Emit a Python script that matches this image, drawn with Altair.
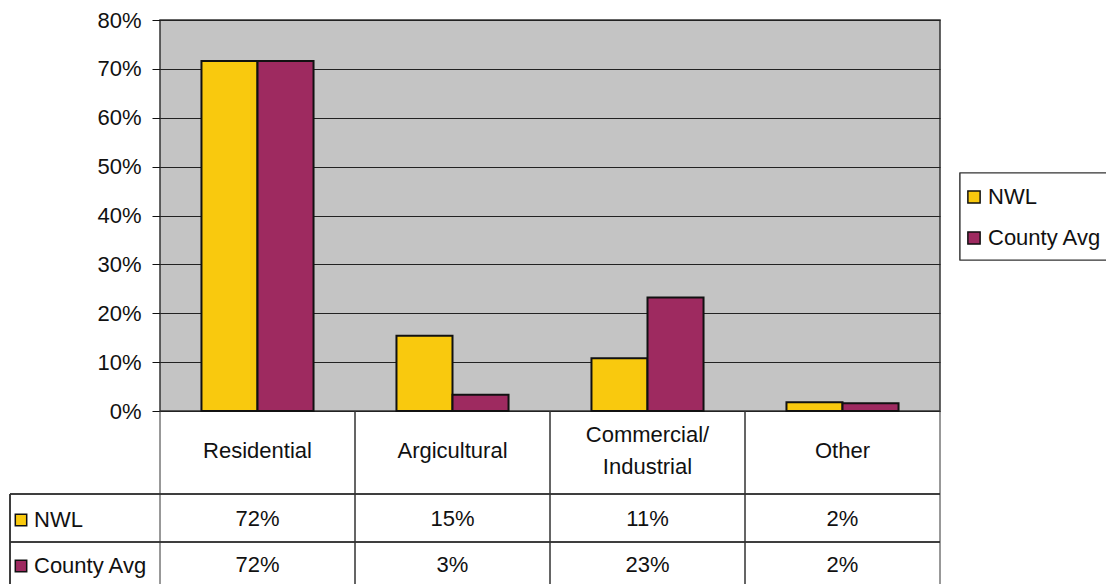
import altair as alt
import pandas as pd

categories = ["Residential", "Argicultural", "Commercial/\nIndustrial", "Other"]
series = ["NWL", "County Avg"]
nwl = [0.716, 0.154, 0.108, 0.018]
county = [0.716, 0.033, 0.232, 0.016]
colors = ["#F9C90E", "#9E2A60"]
y_ticks = [0, 0.1, 0.2, 0.3, 0.4, 0.5, 0.6, 0.7, 0.8]

rows = []
for c, a, b in zip(categories, nwl, county):
    rows.append({"cat": c, "series": series[0], "value": a})
    rows.append({"cat": c, "series": series[1], "value": b})
df = pd.DataFrame(rows)
cats_df = pd.DataFrame({"cat": categories})
ser_df = pd.DataFrame({"series": series})

FONT = "Liberation Sans"
FS = 22
W, H = 780, 391

x_enc = alt.X("cat:N", sort=categories, scale=alt.Scale(paddingInner=0, paddingOuter=0), axis=None)
color_scale = alt.Scale(domain=series, range=colors)

legend_box = alt.Chart(ser_df).mark_rect(fill="white", stroke="#333", strokeWidth=1.2).encode(
    x=alt.value(800), x2=alt.value(960), y=alt.value(153), y2=alt.value(240))

bars = alt.Chart(df).mark_bar(stroke="#111", strokeWidth=2).encode(
    x=x_enc,
    xOffset=alt.XOffset("series:N", sort=series, scale=alt.Scale(paddingInner=0, paddingOuter=0.74)),
    y=alt.Y("value:Q", scale=alt.Scale(domain=[0, 0.8], nice=False),
            axis=alt.Axis(values=y_ticks, format=".0%", title=None, grid=True,
                          gridColor="#222", gridWidth=1, domain=False,
                          tickSize=8, tickColor="#111", labelPadding=11,
                          labelFontSize=FS, labelColor="#111", labelFont=FONT)),
    color=alt.Color("series:N", scale=color_scale, sort=series,
                    legend=alt.Legend(orient="none", legendX=803, legendY=166, title=None,
                                      padding=0, rowPadding=19, labelFontSize=FS, labelFont=FONT,
                                      labelColor="#111", labelLimit=400, labelOffset=3,
                                      symbolType="square", symbolSize=150,
                                      symbolStrokeColor="#111", symbolStrokeWidth=1.5,
                                      symbolOpacity=1)),
)

single_lbl = alt.Chart(cats_df).transform_filter("indexof(datum.cat, '\\n') < 0").mark_text(
    fontSize=FS, font=FONT, color="#111", baseline="middle").encode(
    x=x_enc, y=alt.value(431), text="cat:N")
multi_lbl = alt.Chart(cats_df).transform_filter("indexof(datum.cat, '\\n') >= 0").mark_text(
    fontSize=FS, font=FONT, color="#111", lineBreak="\n", lineHeight=32, baseline="middle").encode(
    x=x_enc, y=alt.value(415), text="cat:N")

val_nwl = alt.Chart(df).transform_filter(alt.datum.series == series[0]).mark_text(
    fontSize=FS, font=FONT, color="#111", baseline="middle").encode(
    x=x_enc, y=alt.value(499), text=alt.Text("value:Q", format=".0%"))
val_cty = alt.Chart(df).transform_filter(alt.datum.series == series[1]).mark_text(
    fontSize=FS, font=FONT, color="#111", baseline="middle").encode(
    x=x_enc, y=alt.value(545), text=alt.Text("value:Q", format=".0%"))

vlines0 = alt.Chart(cats_df).mark_rule(color="#333", strokeWidth=1).encode(
    x=alt.X("cat:N", sort=categories, bandPosition=0, scale=alt.Scale(paddingInner=0, paddingOuter=0), axis=None),
    y=alt.value(H), y2=alt.value(600))
vlines1 = alt.Chart(cats_df).mark_rule(color="#333", strokeWidth=1).encode(
    x=alt.X("cat:N", sort=categories, bandPosition=1, scale=alt.Scale(paddingInner=0, paddingOuter=0), axis=None),
    y=alt.value(H), y2=alt.value(600))

hline1 = alt.Chart(cats_df).mark_rule(color="#333", strokeWidth=1).encode(
    x=alt.value(-150), x2=alt.value(W), y=alt.value(474))
hline2 = alt.Chart(cats_df).mark_rule(color="#333", strokeWidth=1).encode(
    x=alt.value(-150), x2=alt.value(W), y=alt.value(522))
left_line = alt.Chart(cats_df).mark_rule(color="#333", strokeWidth=1).encode(
    x=alt.value(-150), y=alt.value(474), y2=alt.value(600))

def row_key(i, ypix):
    base = alt.Chart(ser_df).transform_filter(alt.datum.series == series[i])
    sq = base.mark_square(size=130, stroke="#111", strokeWidth=1.5, opacity=1).encode(
        x=alt.value(-139), y=alt.value(ypix),
        color=alt.Color("series:N", scale=color_scale, sort=series, legend=None))
    tx = base.mark_text(fontSize=FS, font=FONT, color="#111", align="left", baseline="middle").encode(
        x=alt.value(-126), y=alt.value(ypix), text="series:N")
    return sq + tx

chart = alt.layer(
    legend_box, bars, single_lbl, multi_lbl, val_nwl, val_cty, vlines0, vlines1, hline1, hline2, left_line,
    row_key(0, 500), row_key(1, 546)
).properties(
    width=W, height=H,
    autosize=alt.AutoSizeParams(type="none"),
    padding={"left": 160, "top": 20, "right": 166, "bottom": 173},
    background="white",
).configure_view(
    fill="#C4C4C4", stroke="#333", strokeWidth=1.5
).configure_axis(labelFont=FONT)

chart.save("out.html", embed_options={"renderer": "svg", "actions": False})
